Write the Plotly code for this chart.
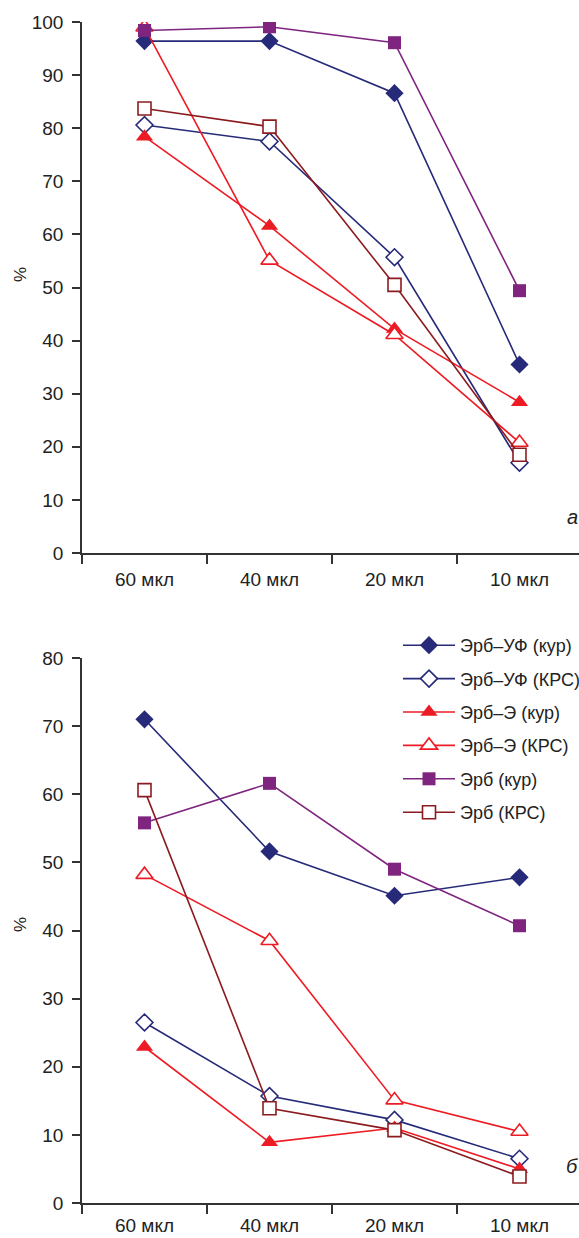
import plotly.graph_objects as go

categories = ["60 мкл", "40 мкл", "20 мкл", "10 мкл"]
series_names = ["Эрб–УФ (кур)", "Эрб–УФ (КРС)", "Эрб–Э (кур)", "Эрб–Э (КРС)", "Эрб (кур)", "Эрб (КРС)"]

# panel a
a_uf_kur = [96.4, 96.4, 86.6, 35.5]
a_uf_krs = [80.6, 77.5, 55.7, 17.0]
a_e_kur = [78.4, 61.6, 42.2, 28.4]
a_e_krs = [99.0, 55.1, 41.1, 20.8]
a_kur = [98.4, 99.1, 96.1, 49.4]
a_krs = [83.7, 80.3, 50.5, 18.5]

# panel б
b_uf_kur = [71.0, 51.6, 45.1, 47.8]
b_uf_krs = [26.5, 15.7, 12.2, 6.5]
b_e_kur = [22.9, 8.9, 11.0, 5.0]
b_e_krs = [48.2, 38.5, 15.1, 10.5]
b_kur = [55.8, 61.6, 49.0, 40.7]
b_krs = [60.6, 13.9, 10.7, 3.9]

NAVY = "#262a78"
RED = "#ed1c24"
PURPLE = "#7f257f"
MAROON = "#8c1b1f"

styles = [
    dict(color=NAVY, symbol="diamond", fill=NAVY, size=14),
    dict(color=NAVY, symbol="diamond", fill="white", size=13),
    dict(color=RED, symbol="triangle-up", fill=RED, size=15),
    dict(color=RED, symbol="triangle-up", fill="white", size=15),
    dict(color=PURPLE, symbol="square", fill=PURPLE, size=13),
    dict(color=MAROON, symbol="square", fill="white", size=13),
]

FONT = "Liberation Sans, Arial, sans-serif"
W, H = 579, 1238

fig = go.Figure()

a_data = [a_uf_kur, a_uf_krs, a_e_kur, a_e_krs, a_kur, a_krs]
b_data = [b_uf_kur, b_uf_krs, b_e_kur, b_e_krs, b_kur, b_krs]

for i, (name, vals) in enumerate(zip(series_names, a_data)):
    s = styles[i]
    fig.add_trace(go.Scatter(
        x=categories, y=vals, mode="lines+markers", name=name, showlegend=False,
        line=dict(color=s["color"], width=1.6),
        marker=dict(symbol=s["symbol"], size=s["size"], color=s["fill"],
                    line=dict(color=s["color"], width=1.6 if s["fill"] == "white" else 0)),
        xaxis="x", yaxis="y"))

for i, (name, vals) in enumerate(zip(series_names, b_data)):
    s = styles[i]
    fig.add_trace(go.Scatter(
        x=categories, y=vals, mode="lines+markers", name=name, showlegend=True,
        legendgroup=f"g{i}",
        line=dict(color=s["color"], width=1.6),
        marker=dict(symbol=s["symbol"], size=s["size"], color=s["fill"],
                    line=dict(color=s["color"], width=1.6 if s["fill"] == "white" else 0)),
        xaxis="x2", yaxis="y2"))

x_dom = [82 / W, 1.0]
xr = [-0.5, -0.5 + (W - 82) / 125.0]

axis_common = dict(showgrid=False, zeroline=False, showline=True, linecolor="#333333",
                   linewidth=1.5, ticks="outside", tickcolor="#333333", tickwidth=1.5,
                   automargin=False,
                   tickfont=dict(family=FONT, size=19, color="#222222"))

fig.update_layout(
    width=W, height=H,
    margin=dict(l=0, r=0, t=0, b=0, autoexpand=False),
    paper_bgcolor="white", plot_bgcolor="white",
    xaxis=dict(domain=x_dom, anchor="y", type="category", range=xr, tickson="boundaries",
               ticklen=9, ticklabelstandoff=8, **axis_common),
    yaxis=dict(domain=[1 - 553 / H, 1 - 22 / H], anchor="x", range=[0, 100], dtick=10,
               ticklen=8, ticklabelstandoff=5, **axis_common),
    xaxis2=dict(domain=x_dom, anchor="y2", type="category", range=xr, tickson="boundaries",
                ticklen=9, ticklabelstandoff=4, **axis_common),
    yaxis2=dict(domain=[1 - 1203 / H, 1 - 658 / H], anchor="x2", range=[0, 80], dtick=10,
                ticklen=8, ticklabelstandoff=5, **axis_common),
    legend=dict(x=398 / W, y=1 - 627 / H, xanchor="left", yanchor="top",
                font=dict(family=FONT, size=18, color="#222222"),
                bgcolor="rgba(0,0,0,0)", tracegroupgap=7, itemwidth=52),
    showlegend=True,
    annotations=[
        dict(text="%", x=20 / W, y=1 - 275 / H, xref="paper", yref="paper", showarrow=False,
             xanchor="center", yanchor="middle",
             textangle=-90, font=dict(family=FONT, size=17, color="#222222")),
        dict(text="%", x=20 / W, y=1 - 925 / H, xref="paper", yref="paper", showarrow=False,
             xanchor="center", yanchor="middle",
             textangle=-90, font=dict(family=FONT, size=17, color="#222222")),
        dict(text="<i>а</i>", x=1.0, y=1 - 517 / H, xref="paper", yref="paper", showarrow=False,
             xanchor="right", yanchor="middle", xshift=1,
             font=dict(family=FONT, size=20, color="#222222")),
        dict(text="<i>б</i>", x=1.0, y=1 - 1166 / H, xref="paper", yref="paper", showarrow=False,
             xanchor="right", yanchor="middle", xshift=1,
             font=dict(family=FONT, size=20, color="#222222")),
    ],
)

fig.write_html("out.html")
